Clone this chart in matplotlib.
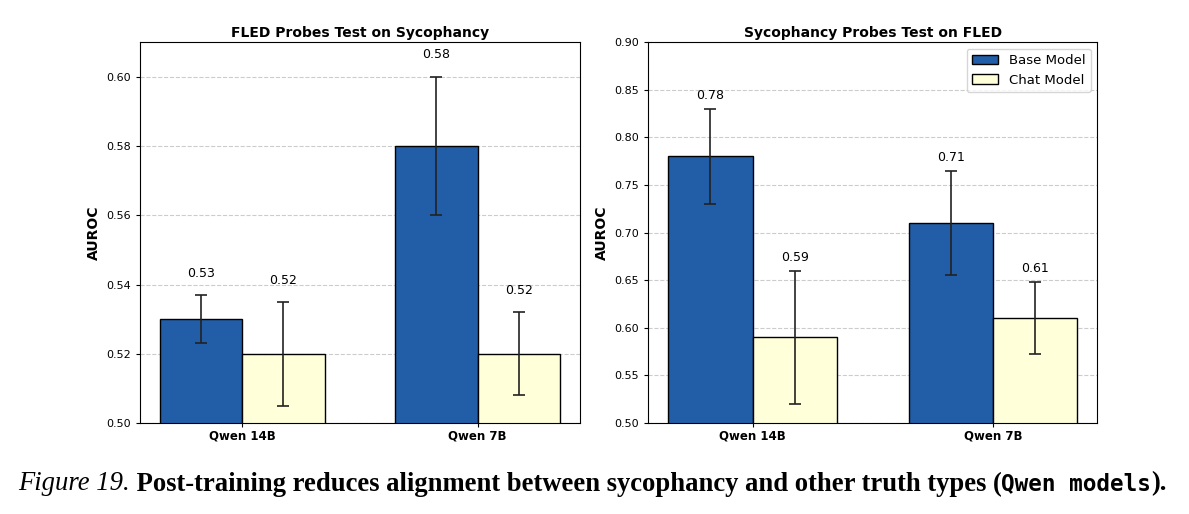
import numpy as np
import matplotlib.pyplot as plt

plt.switch_backend('agg')

# data
models = ['Qwen 14B', 'Qwen 7B']
series = ['Base Model', 'Chat Model']

fled_base = [0.53, 0.58]
fled_base_err = [0.007, 0.020]
fled_chat = [0.52, 0.52]
fled_chat_err = [0.015, 0.012]

syc_base = [0.78, 0.71]
syc_base_err = [0.050, 0.055]
syc_chat = [0.59, 0.61]
syc_chat_err = [0.070, 0.038]

colors = ['#225ea8', '#ffffd9']
width = 0.35

fig = plt.figure(figsize=(11.89, 5.14), dpi=100)
ax1 = fig.add_axes([0.1177, 0.177, 0.370, 0.741])
ax2 = fig.add_axes([0.545, 0.177, 0.378, 0.741])


def draw_panel(ax, base, base_err, chat, chat_err, title, ylim, ticks, pad):
    x = np.arange(len(models))
    for vals, errs, col, lab, off in [(base, base_err, colors[0], series[0], -width / 2),
                                      (chat, chat_err, colors[1], series[1], width / 2)]:
        ax.bar(x + off, vals, width, yerr=errs, color=col, edgecolor='black',
               linewidth=1.0, label=lab, capsize=4,
               error_kw=dict(ecolor='#222222', elinewidth=1.2, capthick=1.2))
        for xi, v, e in zip(x + off, vals, errs):
            ax.annotate(f'{v:.2f}', (xi, v + e), xytext=(0, pad), textcoords='offset points',
                        ha='center', va='bottom', fontsize=9)
    ax.set_ylim(*ylim)
    ax.set_yticks(ticks)
    ax.set_yticklabels([f'{t:.2f}' for t in ticks], fontsize=8)
    ax.set_xticks(x)
    ax.set_xticklabels(models, fontsize=8.5, fontweight='bold')
    ax.set_ylabel('AUROC', fontsize=10, fontweight='bold')
    ax.set_title(title, fontsize=10, fontweight='bold', pad=4)
    ax.yaxis.grid(True, linestyle='--', color='#cccccc', linewidth=0.8)
    ax.set_axisbelow(True)
    ax.tick_params(axis='x', length=3, pad=2)
    ax.tick_params(axis='y', length=3)


draw_panel(ax1, fled_base, fled_base_err, fled_chat, fled_chat_err,
           'FLED Probes Test on Sycophancy', (0.50, 0.61),
           np.round(np.arange(0.50, 0.601, 0.02), 2), 11)
draw_panel(ax2, syc_base, syc_base_err, syc_chat, syc_chat_err,
           'Sycophancy Probes Test on FLED', (0.50, 0.90),
           np.round(np.arange(0.50, 0.901, 0.05), 2), 5)
ax2.legend(loc='upper right', fontsize=9.5, handlelength=2.0)

# caption, pieces laid out one after another
parts = [('Figure 19.', dict(family='Liberation Serif', style='italic'), 1.0),
         (' Post-training reduces alignment between sycophancy and other truth types (',
          dict(family='Liberation Serif', weight='bold'), 1.0),
         ('Qwen models', dict(family='DejaVu Sans Mono', weight='bold'), 0.85),
         (').', dict(family='Liberation Serif', weight='bold'), 1.0)]
fs = 19.2
renderer = fig.canvas.get_renderer()
xpos = 18 / 1189
ypos = 1 - 484 / 514
for txt, kw, scale in parts:
    t = fig.text(xpos, ypos, txt, fontsize=fs * scale, va='center', ha='left', **kw)
    bb = t.get_window_extent(renderer=renderer)
    xpos += bb.width / fig.bbox.width

fig.savefig('out.png', dpi=100)
